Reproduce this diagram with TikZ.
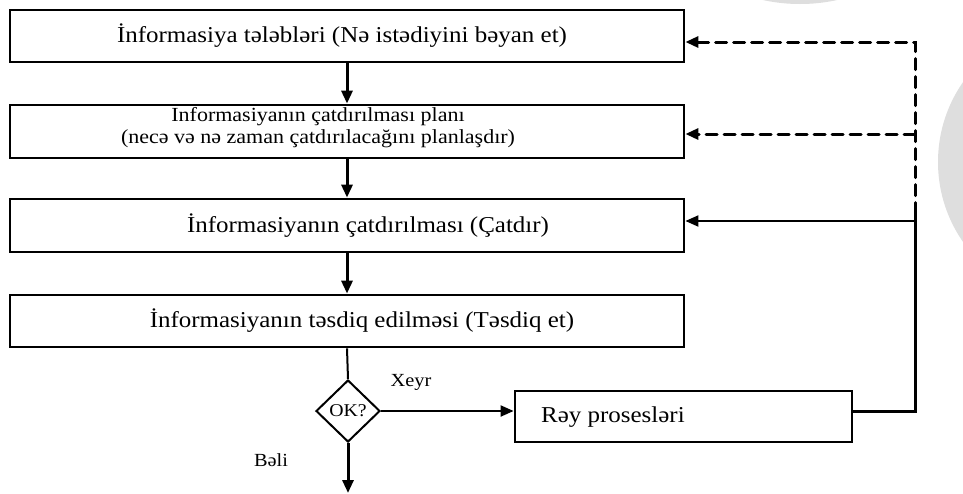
\documentclass[tikz,border=0pt]{standalone}
\usepackage{fontspec}
\setmainfont{Liberation Serif}[FakeStretch=1.1]
\usetikzlibrary{arrows.meta,shapes.geometric,calc}
\definecolor{haze}{HTML}{DEDEDE}

\begin{document}
\begin{tikzpicture}[x=1pt,y=-1pt,
  stepbox/.style={draw, line width=2.8pt, inner sep=0pt, minimum width=674pt, minimum height=52pt},
  bigtext/.style={inner sep=0pt, font=\fontsize{22.7}{26}\selectfont},
  midtext/.style={inner sep=0pt, align=center, font=\fontsize{20}{22}\selectfont},
  smalltext/.style={inner sep=0pt, font=\fontsize{18.5}{22}\selectfont},
  flow/.style={line width=3pt, -{Triangle[length=13pt,width=11pt]}},
  slim/.style={line width=2pt},
  tip/.style={-{Triangle[length=13pt,width=11pt]}},
  fbdash/.style={line width=3pt, dash pattern=on 11pt off 7pt, line cap=round}
]
  % canvas and background shapes
  \fill[white] (0,0) rectangle (963,493);
  \useasboundingbox (0,0) rectangle (963,493);
  \begin{scope}
    \clip (0,0) rectangle (963,493);
    \fill[haze] (800,-169) circle[radius=173];
    \fill[haze] (1078,162) circle[radius=140];
  \end{scope}

  % process steps
  \node[stepbox] (b1) at (347,36) {};
  \node[stepbox, minimum height=53pt] (b2) at (347,131.5) {};
  \node[stepbox, minimum height=53pt] (b3) at (347,225.5) {};
  \node[stepbox] (b4) at (347,321) {};

  \node[bigtext] (t1) at (342,36) {İnformasiya tələbləri (Nə istədiyini bəyan et)};
  \node[midtext] (t2) at (318,128) {Informasiyanın çatdırılması planı\\(necə və nə zaman çatdırılacağını planlaşdır)};
  \node[bigtext] (t3) at (368,226) {İnformasiyanın çatdırılması (Çatdır)};
  \node[bigtext] (t4) at (362,321) {İnformasiyanın təsdiq edilməsi (Təsdiq et)};

  % decision and feedback
  \node[diamond, draw, line width=2pt, minimum width=64pt, minimum height=62pt,
        inner sep=0pt, font=\fontsize{18}{20}\selectfont] (d) at (348,411) {OK?};
  \node[draw, line width=2.8pt, minimum width=337pt, minimum height=51pt, inner sep=0pt] (r) at (683.5,416.5) {};
  \node[bigtext, anchor=west] (rt) at (541,417) {Rəy prosesləri};

  \node[smalltext] (xeyr) at (411,382) {Xeyr};
  \node[smalltext] (beli) at (271,460) {Bəli};

  \coordinate (k1) at (915,42);
  \coordinate (k2) at (915,134);
  \coordinate (k3) at (915,221);
  \coordinate (kt) at (915,213);
  \coordinate (k4) at (915,411);
  \coordinate (out) at (348,493);

  % main flow
  \draw[flow] (b1.south) -- (b2.north);
  \draw[flow] (b2.south) -- (b3.north);
  \draw[flow] (b3.south) -- (b4.north);
  \draw[slim] (b4.south) -- (d.north);
  \draw[flow] (d.south) -- (out);
  \draw[slim, tip] (d.east) -- (d.east -| r.west);

  % feedback loops
  \draw[line width=3pt] (d.east -| r.east) -- (k4) -- (kt);
  \draw[slim, tip] (k3) -- (k3 -| b3.east);
  \draw[fbdash, {Triangle[length=13pt,width=11pt]}-] (k1 -| b1.east) -- (k1) -- (kt);
  \draw[fbdash, tip] (k2) -- (k2 -| b2.east);
\end{tikzpicture}
\end{document}
